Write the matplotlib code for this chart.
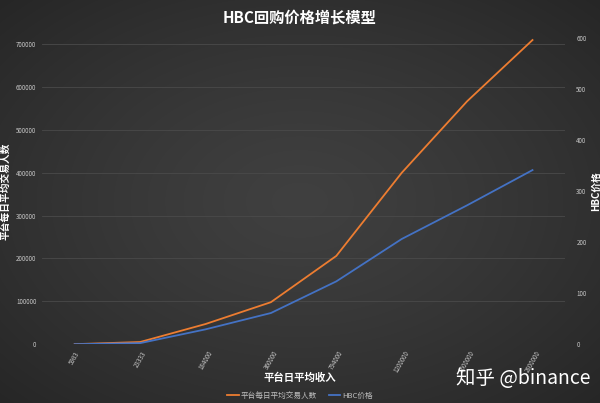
import numpy as np
import matplotlib
matplotlib.use("Agg")
import matplotlib.pyplot as plt
from matplotlib.lines import Line2D

plt.rcParams['font.family'] = ['Noto Sans CJK SC', 'DejaVu Sans']

categories = ["5983", "23333", "184000", "360000", "794000", "1200000", "1600000", "2800000"]
traders = [0, 5000, 47000, 98000, 206000, 400000, 567000, 710000]
hbc_price = [0, 2, 29, 61, 123, 206, 272, 341]
left_ticks = [0, 100000, 200000, 300000, 400000, 500000, 600000, 700000]
right_ticks = [0, 100, 200, 300, 400, 500, 600]

fig = plt.figure(figsize=(6, 4.03), dpi=100)

# radial dark background
bg = fig.add_axes([0, 0, 1, 1], zorder=-10)
yy, xx = np.mgrid[-1:1:403j, -1:1:600j]
r = np.sqrt(xx**2 + yy**2) / np.sqrt(2)
val = 0.25 - 0.10 * r**1.3
img = np.dstack([val, val, val])
bg.imshow(img, aspect='auto', extent=[0, 1, 0, 1])
bg.axis('off')

ax = fig.add_axes([0.07, 0.146, 0.872, 0.76])
ax.patch.set_alpha(0)
x = np.arange(len(categories))
ax.plot(x, traders, color='#ed7d31', lw=1.3)
ax.set_xlim(-0.5, len(categories) - 0.5)
ax.set_ylim(0, 715000)
ax.set_yticks(left_ticks)
ax.set_yticklabels([str(t) for t in left_ticks], fontsize=4.5, color='#c8c8c8')
ax.set_xticks(x)
ax.set_xticklabels(categories, fontsize=4.5, color='#c8c8c8', rotation=60, ha='center')
ax.tick_params(length=0, pad=4)
ax.grid(axis='y', color='#4a4a4a', lw=0.6)
for s in ax.spines.values():
    s.set_visible(False)
ax.set_ylabel('平台每日平均交易人数', color='white', fontsize=7, fontweight='bold')
ax.yaxis.set_label_coords(-0.061, 0.5)

ax2 = ax.twinx()
ax2.plot(x, hbc_price, color='#4472c4', lw=1.3)
ax2.set_ylim(0, 600)
ax2.set_yticks(right_ticks)
ax2.set_yticklabels([str(t) for t in right_ticks], fontsize=4.5, color='#c8c8c8')
ax2.tick_params(length=0, pad=8)
for s in ax2.spines.values():
    s.set_visible(False)
ax2.set_ylabel('HBC价格', color='white', fontsize=7, fontweight='bold', rotation=90)
ax2.yaxis.set_label_coords(1.05, 0.5)

fig.text(0.5, 0.957, 'HBC回购价格增长模型', ha='center', va='center', color='white',
         fontsize=11, fontweight='bold')
fig.text(0.5, 0.063, '平台日平均收入', ha='center', va='center', color='white',
         fontsize=7.5, fontweight='bold')

handles = [Line2D([], [], color='#ed7d31', lw=1.3), Line2D([], [], color='#4472c4', lw=1.3)]
leg = fig.legend(handles, ['平台每日平均交易人数', 'HBC价格'], loc='center',
                 bbox_to_anchor=(0.5, 0.018), ncol=2, frameon=False, fontsize=5.5,
                 labelcolor='#bfbfbf', handlelength=1.5, columnspacing=1.5, handletextpad=0.3)

fig.text(0.985, 0.062, '知乎 @binance', ha='right', va='center', color='white', fontsize=14)

fig.savefig('out.png', dpi=100)
